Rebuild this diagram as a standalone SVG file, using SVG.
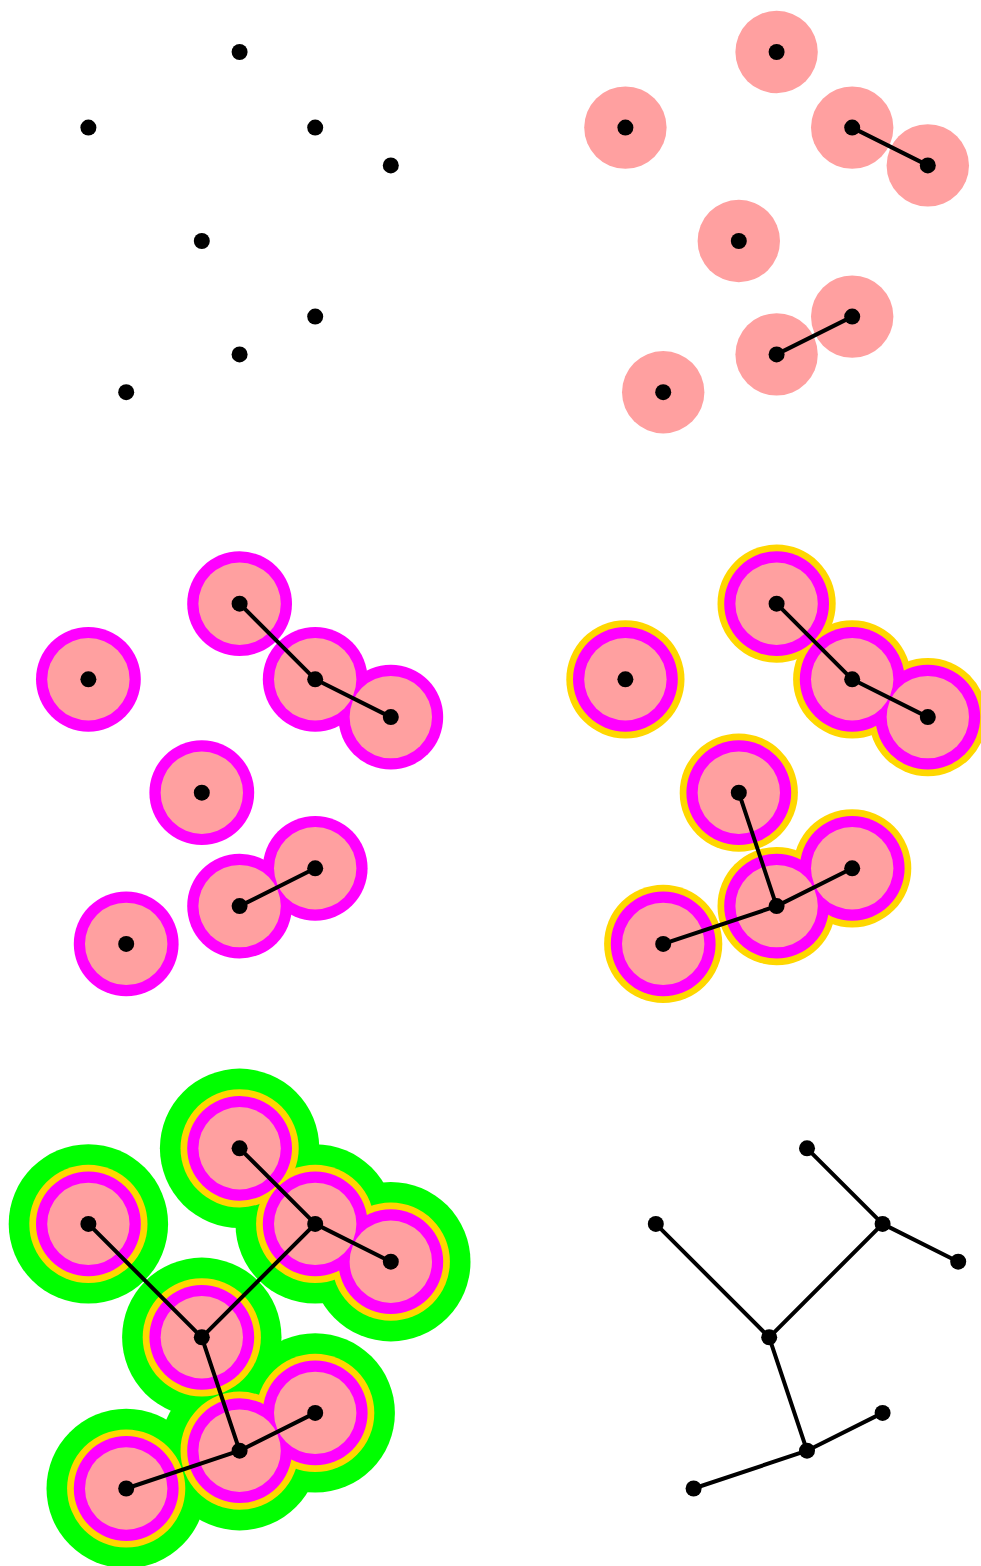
<svg xmlns="http://www.w3.org/2000/svg" width="981" height="1566" viewBox="0 0 981 1566">
<style>
.dot{fill:#000}
.pink{fill:#ffa0a0}
.mag{fill:#ff00ff}
.gold{fill:#ffd700}
.green{fill:#00ff00}
.edge{stroke:#000;stroke-width:4;fill:none;stroke-linecap:round}
</style>
<rect width="981" height="1566" fill="#fff"/>

<!-- Panel 1: points only -->
<g id="panel1">
  <g id="p1-A"><circle class="dot" cx="239.6" cy="52" r="8"/></g>
  <g id="p1-B"><circle class="dot" cx="88.4" cy="127.6" r="8"/></g>
  <g id="p1-C"><circle class="dot" cx="315.2" cy="127.6" r="8"/></g>
  <g id="p1-D"><circle class="dot" cx="390.8" cy="165.4" r="8"/></g>
  <g id="p1-E"><circle class="dot" cx="201.8" cy="241" r="8"/></g>
  <g id="p1-F"><circle class="dot" cx="315.2" cy="316.6" r="8"/></g>
  <g id="p1-G"><circle class="dot" cx="239.6" cy="354.4" r="8"/></g>
  <g id="p1-H"><circle class="dot" cx="126.2" cy="392.2" r="8"/></g>
</g>

<!-- Panel 2 -->
<g id="panel2" transform="translate(537,0)">
  <g id="p2-discs-pink" class="pink">
    <circle cx="239.6" cy="52" r="41.2"/><circle cx="88.4" cy="127.6" r="41.2"/>
    <circle cx="315.2" cy="127.6" r="41.2"/><circle cx="390.8" cy="165.4" r="41.2"/>
    <circle cx="201.8" cy="241" r="41.2"/><circle cx="315.2" cy="316.6" r="41.2"/>
    <circle cx="239.6" cy="354.4" r="41.2"/><circle cx="126.2" cy="392.2" r="41.2"/>
  </g>
  <g id="p2-connectors">
    <line class="edge" x1="315.2" y1="127.6" x2="390.8" y2="165.4"/>
    <line class="edge" x1="239.6" y1="354.4" x2="315.2" y2="316.6"/>
  </g>
  <g id="p2-A"><circle class="dot" cx="239.6" cy="52" r="8"/></g>
  <g id="p2-B"><circle class="dot" cx="88.4" cy="127.6" r="8"/></g>
  <g id="p2-C"><circle class="dot" cx="315.2" cy="127.6" r="8"/></g>
  <g id="p2-D"><circle class="dot" cx="390.8" cy="165.4" r="8"/></g>
  <g id="p2-E"><circle class="dot" cx="201.8" cy="241" r="8"/></g>
  <g id="p2-F"><circle class="dot" cx="315.2" cy="316.6" r="8"/></g>
  <g id="p2-G"><circle class="dot" cx="239.6" cy="354.4" r="8"/></g>
  <g id="p2-H"><circle class="dot" cx="126.2" cy="392.2" r="8"/></g>
</g>

<!-- Panel 3 -->
<g id="panel3" transform="translate(0,551.7)">
  <g id="p3-discs-mag" class="mag">
    <circle cx="239.6" cy="52" r="52.4"/><circle cx="88.4" cy="127.6" r="52.4"/>
    <circle cx="315.2" cy="127.6" r="52.4"/><circle cx="390.8" cy="165.4" r="52.4"/>
    <circle cx="201.8" cy="241" r="52.4"/><circle cx="315.2" cy="316.6" r="52.4"/>
    <circle cx="239.6" cy="354.4" r="52.4"/><circle cx="126.2" cy="392.2" r="52.4"/>
  </g>
  <g id="p3-discs-pink" class="pink">
    <circle cx="239.6" cy="52" r="41.2"/><circle cx="88.4" cy="127.6" r="41.2"/>
    <circle cx="315.2" cy="127.6" r="41.2"/><circle cx="390.8" cy="165.4" r="41.2"/>
    <circle cx="201.8" cy="241" r="41.2"/><circle cx="315.2" cy="316.6" r="41.2"/>
    <circle cx="239.6" cy="354.4" r="41.2"/><circle cx="126.2" cy="392.2" r="41.2"/>
  </g>
  <g id="p3-connectors">
    <line class="edge" x1="239.6" y1="52" x2="315.2" y2="127.6"/>
    <line class="edge" x1="315.2" y1="127.6" x2="390.8" y2="165.4"/>
    <line class="edge" x1="239.6" y1="354.4" x2="315.2" y2="316.6"/>
  </g>
  <g id="p3-A"><circle class="dot" cx="239.6" cy="52" r="8"/></g>
  <g id="p3-B"><circle class="dot" cx="88.4" cy="127.6" r="8"/></g>
  <g id="p3-C"><circle class="dot" cx="315.2" cy="127.6" r="8"/></g>
  <g id="p3-D"><circle class="dot" cx="390.8" cy="165.4" r="8"/></g>
  <g id="p3-E"><circle class="dot" cx="201.8" cy="241" r="8"/></g>
  <g id="p3-F"><circle class="dot" cx="315.2" cy="316.6" r="8"/></g>
  <g id="p3-G"><circle class="dot" cx="239.6" cy="354.4" r="8"/></g>
  <g id="p3-H"><circle class="dot" cx="126.2" cy="392.2" r="8"/></g>
</g>

<!-- Panel 4 -->
<g id="panel4" transform="translate(537,551.7)">
  <g id="p4-discs-gold" class="gold">
    <circle cx="239.6" cy="52" r="59.1"/><circle cx="88.4" cy="127.6" r="59.1"/>
    <circle cx="315.2" cy="127.6" r="59.1"/><circle cx="390.8" cy="165.4" r="59.1"/>
    <circle cx="201.8" cy="241" r="59.1"/><circle cx="315.2" cy="316.6" r="59.1"/>
    <circle cx="239.6" cy="354.4" r="59.1"/><circle cx="126.2" cy="392.2" r="59.1"/>
  </g>
  <g id="p4-discs-mag" class="mag">
    <circle cx="239.6" cy="52" r="52.4"/><circle cx="88.4" cy="127.6" r="52.4"/>
    <circle cx="315.2" cy="127.6" r="52.4"/><circle cx="390.8" cy="165.4" r="52.4"/>
    <circle cx="201.8" cy="241" r="52.4"/><circle cx="315.2" cy="316.6" r="52.4"/>
    <circle cx="239.6" cy="354.4" r="52.4"/><circle cx="126.2" cy="392.2" r="52.4"/>
  </g>
  <g id="p4-discs-pink" class="pink">
    <circle cx="239.6" cy="52" r="41.2"/><circle cx="88.4" cy="127.6" r="41.2"/>
    <circle cx="315.2" cy="127.6" r="41.2"/><circle cx="390.8" cy="165.4" r="41.2"/>
    <circle cx="201.8" cy="241" r="41.2"/><circle cx="315.2" cy="316.6" r="41.2"/>
    <circle cx="239.6" cy="354.4" r="41.2"/><circle cx="126.2" cy="392.2" r="41.2"/>
  </g>
  <g id="p4-connectors">
    <line class="edge" x1="239.6" y1="52" x2="315.2" y2="127.6"/>
    <line class="edge" x1="315.2" y1="127.6" x2="390.8" y2="165.4"/>
    <line class="edge" x1="201.8" y1="241" x2="239.6" y2="354.4"/>
    <line class="edge" x1="239.6" y1="354.4" x2="315.2" y2="316.6"/>
    <line class="edge" x1="126.2" y1="392.2" x2="239.6" y2="354.4"/>
  </g>
  <g id="p4-A"><circle class="dot" cx="239.6" cy="52" r="8"/></g>
  <g id="p4-B"><circle class="dot" cx="88.4" cy="127.6" r="8"/></g>
  <g id="p4-C"><circle class="dot" cx="315.2" cy="127.6" r="8"/></g>
  <g id="p4-D"><circle class="dot" cx="390.8" cy="165.4" r="8"/></g>
  <g id="p4-E"><circle class="dot" cx="201.8" cy="241" r="8"/></g>
  <g id="p4-F"><circle class="dot" cx="315.2" cy="316.6" r="8"/></g>
  <g id="p4-G"><circle class="dot" cx="239.6" cy="354.4" r="8"/></g>
  <g id="p4-H"><circle class="dot" cx="126.2" cy="392.2" r="8"/></g>
</g>

<!-- Panel 5 -->
<g id="panel5" transform="translate(0,1096.3)">
  <g id="p5-discs-green" class="green">
    <circle cx="239.6" cy="52" r="79.7"/><circle cx="88.4" cy="127.6" r="79.7"/>
    <circle cx="315.2" cy="127.6" r="79.7"/><circle cx="390.8" cy="165.4" r="79.7"/>
    <circle cx="201.8" cy="241" r="79.7"/><circle cx="315.2" cy="316.6" r="79.7"/>
    <circle cx="239.6" cy="354.4" r="79.7"/><circle cx="126.2" cy="392.2" r="79.7"/>
  </g>
  <g id="p5-discs-gold" class="gold">
    <circle cx="239.6" cy="52" r="59.1"/><circle cx="88.4" cy="127.6" r="59.1"/>
    <circle cx="315.2" cy="127.6" r="59.1"/><circle cx="390.8" cy="165.4" r="59.1"/>
    <circle cx="201.8" cy="241" r="59.1"/><circle cx="315.2" cy="316.6" r="59.1"/>
    <circle cx="239.6" cy="354.4" r="59.1"/><circle cx="126.2" cy="392.2" r="59.1"/>
  </g>
  <g id="p5-discs-mag" class="mag">
    <circle cx="239.6" cy="52" r="52.4"/><circle cx="88.4" cy="127.6" r="52.4"/>
    <circle cx="315.2" cy="127.6" r="52.4"/><circle cx="390.8" cy="165.4" r="52.4"/>
    <circle cx="201.8" cy="241" r="52.4"/><circle cx="315.2" cy="316.6" r="52.4"/>
    <circle cx="239.6" cy="354.4" r="52.4"/><circle cx="126.2" cy="392.2" r="52.4"/>
  </g>
  <g id="p5-discs-pink" class="pink">
    <circle cx="239.6" cy="52" r="41.2"/><circle cx="88.4" cy="127.6" r="41.2"/>
    <circle cx="315.2" cy="127.6" r="41.2"/><circle cx="390.8" cy="165.4" r="41.2"/>
    <circle cx="201.8" cy="241" r="41.2"/><circle cx="315.2" cy="316.6" r="41.2"/>
    <circle cx="239.6" cy="354.4" r="41.2"/><circle cx="126.2" cy="392.2" r="41.2"/>
  </g>
  <g id="p5-connectors">
    <line class="edge" x1="239.6" y1="52" x2="315.2" y2="127.6"/>
    <line class="edge" x1="315.2" y1="127.6" x2="390.8" y2="165.4"/>
    <line class="edge" x1="88.4" y1="127.6" x2="201.8" y2="241"/>
    <line class="edge" x1="201.8" y1="241" x2="315.2" y2="127.6"/>
    <line class="edge" x1="201.8" y1="241" x2="239.6" y2="354.4"/>
    <line class="edge" x1="239.6" y1="354.4" x2="315.2" y2="316.6"/>
    <line class="edge" x1="126.2" y1="392.2" x2="239.6" y2="354.4"/>
  </g>
  <g id="p5-A"><circle class="dot" cx="239.6" cy="52" r="8"/></g>
  <g id="p5-B"><circle class="dot" cx="88.4" cy="127.6" r="8"/></g>
  <g id="p5-C"><circle class="dot" cx="315.2" cy="127.6" r="8"/></g>
  <g id="p5-D"><circle class="dot" cx="390.8" cy="165.4" r="8"/></g>
  <g id="p5-E"><circle class="dot" cx="201.8" cy="241" r="8"/></g>
  <g id="p5-F"><circle class="dot" cx="315.2" cy="316.6" r="8"/></g>
  <g id="p5-G"><circle class="dot" cx="239.6" cy="354.4" r="8"/></g>
  <g id="p5-H"><circle class="dot" cx="126.2" cy="392.2" r="8"/></g>
</g>

<!-- Panel 6: resulting tree -->
<g id="panel6" transform="translate(567.4,1096.3)">
  <g id="p6-connectors">
    <line class="edge" x1="239.6" y1="52" x2="315.2" y2="127.6"/>
    <line class="edge" x1="315.2" y1="127.6" x2="390.8" y2="165.4"/>
    <line class="edge" x1="88.4" y1="127.6" x2="201.8" y2="241"/>
    <line class="edge" x1="201.8" y1="241" x2="315.2" y2="127.6"/>
    <line class="edge" x1="201.8" y1="241" x2="239.6" y2="354.4"/>
    <line class="edge" x1="239.6" y1="354.4" x2="315.2" y2="316.6"/>
    <line class="edge" x1="126.2" y1="392.2" x2="239.6" y2="354.4"/>
  </g>
  <g id="p6-A"><circle class="dot" cx="239.6" cy="52" r="8"/></g>
  <g id="p6-B"><circle class="dot" cx="88.4" cy="127.6" r="8"/></g>
  <g id="p6-C"><circle class="dot" cx="315.2" cy="127.6" r="8"/></g>
  <g id="p6-D"><circle class="dot" cx="390.8" cy="165.4" r="8"/></g>
  <g id="p6-E"><circle class="dot" cx="201.8" cy="241" r="8"/></g>
  <g id="p6-F"><circle class="dot" cx="315.2" cy="316.6" r="8"/></g>
  <g id="p6-G"><circle class="dot" cx="239.6" cy="354.4" r="8"/></g>
  <g id="p6-H"><circle class="dot" cx="126.2" cy="392.2" r="8"/></g>
</g>
</svg>
